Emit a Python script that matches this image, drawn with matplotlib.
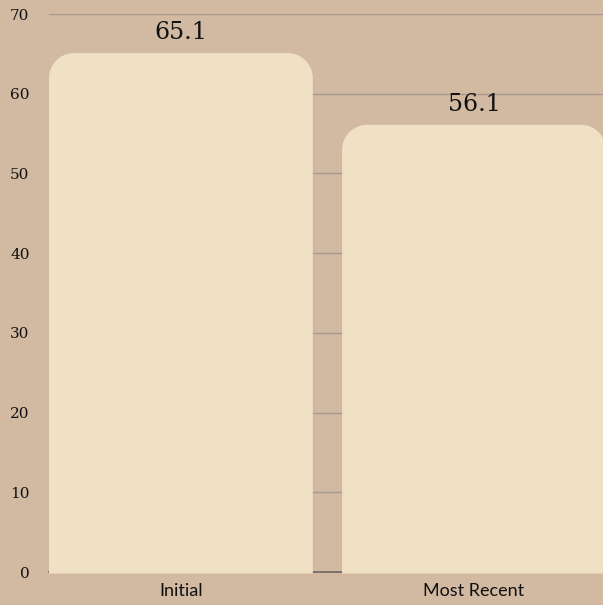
import matplotlib
matplotlib.use("Agg")
import matplotlib.pyplot as plt
from matplotlib.path import Path
from matplotlib.patches import PathPatch

categories = ["Initial", "Most Recent"]
values = [65.1, 56.1]
yticks = [0, 10, 20, 30, 40, 50, 60, 70]

bg = "#D1B9A2"
bar_color = "#F0E1C5"
grid_color = "#A89A8C"

fig = plt.figure(figsize=(6.03, 6.05), dpi=100)
fig.patch.set_facecolor(bg)
ax = fig.add_axes([49 / 603, 33 / 605, 1 - 49 / 603, 558 / 605])
ax.set_facecolor(bg)

x = list(range(len(categories)))
bars = ax.bar(x, values, width=0.9, color=bar_color, zorder=2)
ax.set_xlim(-0.45, 1.44)
ax.set_ylim(0, 70)

# swap the plain bars for ones with rounded top corners
fig.canvas.draw()
inv = ax.transData.inverted()
p0 = inv.transform((0, 0))
p1 = inv.transform((25, 25))
rx, ry = p1[0] - p0[0], p1[1] - p0[1]
pad = ry * 1.5 / 25  # push the base a hair below the axis line
k = 0.5523
for b in bars:
    x0, y0 = b.get_x(), b.get_y()
    x1, y1 = x0 + b.get_width(), y0 + b.get_height()
    yb = y0 - pad
    verts = [
        (x0, yb), (x0, y1 - ry),
        (x0, y1 - ry + k * ry), (x0 + rx - k * rx, y1), (x0 + rx, y1),
        (x1 - rx, y1),
        (x1 - rx + k * rx, y1), (x1, y1 - ry + k * ry), (x1, y1 - ry),
        (x1, yb), (x0, yb),
    ]
    codes = [Path.MOVETO, Path.LINETO,
             Path.CURVE4, Path.CURVE4, Path.CURVE4,
             Path.LINETO,
             Path.CURVE4, Path.CURVE4, Path.CURVE4,
             Path.LINETO, Path.CLOSEPOLY]
    ax.add_patch(PathPatch(Path(verts, codes), facecolor=bar_color,
                           edgecolor="none", zorder=3, clip_on=False))
    b.set_visible(False)
    ax.text(x0 + b.get_width() / 2, y1 + 1.1, f"{y1 - y0:.1f}",
            ha="center", va="bottom", fontsize=17, family="DejaVu Serif",
            color="#111111", zorder=4)

ax.set_yticks(yticks)
ax.set_yticklabels([str(t) for t in yticks], family="DejaVu Serif",
                   fontsize=11, color="#111111")
ax.set_xticks(x)
ax.set_xticklabels(categories, family="Lato", fontsize=13, color="#111111")
ax.tick_params(axis="both", length=0)
ax.tick_params(axis="y", pad=14)
ax.tick_params(axis="x", pad=8)
ax.yaxis.grid(True, color=grid_color, linewidth=1, zorder=0)
ax.set_axisbelow(True)
for s in ["top", "right", "left"]:
    ax.spines[s].set_visible(False)
ax.spines["bottom"].set_color("#6E6660")
ax.spines["bottom"].set_linewidth(1.2)
ax.spines["bottom"].set_zorder(1)

fig.savefig("out.png", dpi=100, facecolor=bg)
